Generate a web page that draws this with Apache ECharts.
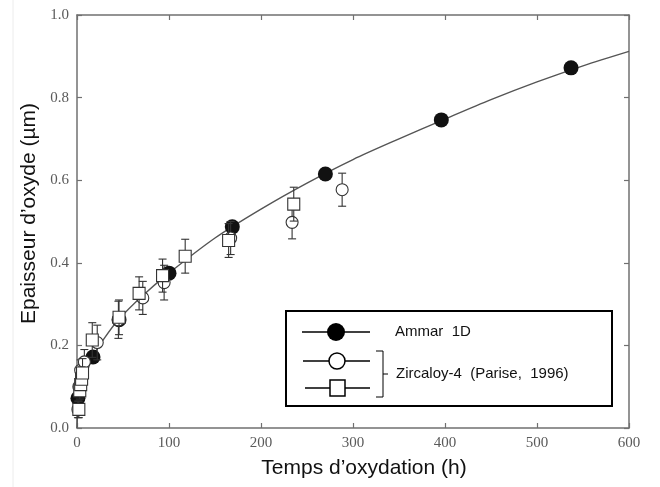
<!DOCTYPE html>
<html>
<head>
<meta charset="utf-8">
<script src="https://cdn.jsdelivr.net/npm/echarts@6/dist/echarts.min.js"></script>
<style>
html,body{margin:0;padding:0;background:#fff;}
#c{width:660px;height:487px;}
</style>
</head>
<body>
<div id="c"></div>
<script>
// Axis ticks
const xTicks = [0, 100, 200, 300, 400, 500, 600];
const yTicks = [0, 0.2, 0.4, 0.6, 0.8, 1.0];

// Model curve (Ammar 1D)
const curveT = [0, 1, 3, 6, 10, 17, 30, 45, 70, 100, 150, 200, 250, 300, 350, 400, 450, 500, 550, 600];
const curveY = [0.0, 0.045, 0.075, 0.105, 0.13, 0.172, 0.218, 0.262, 0.318, 0.375, 0.46, 0.53, 0.593, 0.65, 0.70, 0.748, 0.795, 0.838, 0.877, 0.912];

// Ammar 1D points (filled circles)
const ammarT = [1, 17.4, 45.7, 100, 168.8, 270, 396, 537];
const ammarY = [0.072, 0.172, 0.262, 0.375, 0.487, 0.615, 0.746, 0.872];

// Zircaloy-4 (Parise, 1996) - open circles
const circT = [1, 2, 4, 8, 22, 45, 71.5, 94.7, 167, 233.8, 288.2];
const circY = [0.045, 0.1, 0.14, 0.16, 0.207, 0.262, 0.315, 0.352, 0.46, 0.498, 0.577];
const circErr = [0.02, 0.02, 0.025, 0.03, 0.042, 0.045, 0.04, 0.042, 0.04, 0.04, 0.04];

// Zircaloy-4 (Parise, 1996) - open squares
const sqT = [2, 3, 4, 5, 6, 16.6, 45.7, 67.5, 93, 117.6, 164.8, 235.6];
const sqY = [0.045, 0.09, 0.105, 0.118, 0.133, 0.213, 0.268, 0.326, 0.369, 0.416, 0.454, 0.542];
const sqErr = [0.02, 0.02, 0.025, 0.03, 0.035, 0.042, 0.042, 0.04, 0.04, 0.041, 0.041, 0.041];

const zip = (a, b) => a.map((v, i) => [v, b[i]]);
const zip3 = (a, b, c) => a.map((v, i) => [v, b[i], c[i]]);

const AX = '#707070';
const LBL = '#5a5a5a';
const serif = 'Liberation Serif';

function errRender(params, api) {
  const x = api.value(0), y = api.value(1), e = api.value(2);
  const top = api.coord([x, y + e]);
  const bot = api.coord([x, y - e]);
  const w = 4;
  const st = { stroke: '#333', lineWidth: 1.1 };
  return {
    type: 'group',
    children: [
      { type: 'line', shape: { x1: top[0], y1: top[1], x2: bot[0], y2: bot[1] }, style: st },
      { type: 'line', shape: { x1: top[0] - w, y1: top[1], x2: top[0] + w, y2: top[1] }, style: st },
      { type: 'line', shape: { x1: bot[0] - w, y1: bot[1], x2: bot[0] + w, y2: bot[1] }, style: st }
    ]
  };
}

function axisParts() {
  return {
    axisLine: { show: true, onZero: false, lineStyle: { color: AX, width: 1.5 } },
    axisTick: { show: true, inside: true, length: 5, lineStyle: { color: AX, width: 1.2 } },
    splitLine: { show: false }
  };
}

const chart = echarts.init(document.getElementById('c'), null, { renderer: 'canvas' });
chart.setOption({
  backgroundColor: '#fff',
  animation: false,
  grid: { left: 77, right: 31, top: 15, bottom: 59 },
  xAxis: [
    Object.assign({
      type: 'value', min: xTicks[0], max: xTicks[xTicks.length - 1], interval: 100, position: 'bottom',
      axisLabel: { fontFamily: serif, fontSize: 15, color: LBL, margin: 8 },
      name: 'Temps d\u2019oxydation (h)', nameLocation: 'middle', nameGap: 30,
      nameTextStyle: { fontFamily: 'Liberation Sans', fontSize: 21, color: '#111', padding: [0, 0, 0, 22] }
    }, axisParts()),
    Object.assign({
      type: 'value', min: xTicks[0], max: xTicks[xTicks.length - 1], interval: 100, position: 'top',
      axisLabel: { show: false }
    }, axisParts())
  ],
  yAxis: [
    Object.assign({
      type: 'value', min: yTicks[0], max: yTicks[yTicks.length - 1], interval: 0.2, position: 'left',
      axisLabel: { fontFamily: serif, fontSize: 15, color: LBL, margin: 8, formatter: v => v.toFixed(1) },
      name: 'Epaisseur d\u2019oxyde (\u00b5m)', nameLocation: 'middle', nameGap: 33,
      nameTextStyle: { fontFamily: 'Liberation Sans', fontSize: 21, color: '#111', padding: [0, 0, 0, 16] }
    }, axisParts()),
    Object.assign({
      type: 'value', min: yTicks[0], max: yTicks[yTicks.length - 1], interval: 0.2, position: 'right',
      axisLabel: { show: false }
    }, axisParts())
  ],
  series: [
    {
      type: 'line', data: zip(curveT, curveY), smooth: 0.3, symbol: 'none',
      lineStyle: { color: '#555', width: 1.4 }, z: 1
    },
    {
      type: 'scatter', data: zip(ammarT, ammarY), symbol: 'circle', symbolSize: 15,
      itemStyle: { color: '#111', opacity: 1 }, z: 2
    },
    {
      type: 'custom', data: zip3(circT, circY, circErr), renderItem: errRender, z: 3
    },
    {
      type: 'scatter', data: zip(circT, circY), symbol: 'circle', symbolSize: 12,
      itemStyle: { color: '#fff', borderColor: '#333', borderWidth: 1.1, opacity: 1 }, z: 4
    },
    {
      type: 'custom', data: zip3(sqT, sqY, sqErr), renderItem: errRender, z: 5
    },
    {
      type: 'scatter', data: zip(sqT, sqY), symbol: 'rect', symbolSize: 12,
      itemStyle: { color: '#fff', borderColor: '#333', borderWidth: 1.1, opacity: 1 }, z: 6
    }
  ],
  graphic: [
    { type: 'line', shape: { x1: 13, y1: 0, x2: 13, y2: 487 }, style: { stroke: '#ececec', lineWidth: 1 }, silent: true },
    { type: 'rect', shape: { x: 286, y: 311, width: 326, height: 95 }, style: { fill: '#fff', stroke: '#000', lineWidth: 2 }, z: 100 },
    { type: 'line', shape: { x1: 302, y1: 332, x2: 370, y2: 332 }, style: { stroke: '#000', lineWidth: 1.5 }, z: 101 },
    { type: 'circle', shape: { cx: 336, cy: 332, r: 9 }, style: { fill: '#000' }, z: 102 },
    { type: 'line', shape: { x1: 303, y1: 361, x2: 370, y2: 361 }, style: { stroke: '#000', lineWidth: 1.5 }, z: 101 },
    { type: 'circle', shape: { cx: 337, cy: 361, r: 8 }, style: { fill: '#fff', stroke: '#000', lineWidth: 1.5 }, z: 102 },
    { type: 'line', shape: { x1: 305, y1: 388, x2: 370, y2: 388 }, style: { stroke: '#000', lineWidth: 1.5 }, z: 101 },
    { type: 'rect', shape: { x: 330, y: 380, width: 15, height: 16 }, style: { fill: '#fff', stroke: '#000', lineWidth: 1.5 }, z: 102 },
    { type: 'polyline', shape: { points: [[376, 351], [383, 351], [383, 397], [376, 397]] }, style: { stroke: '#000', lineWidth: 1, fill: null }, z: 101 },
    { type: 'line', shape: { x1: 383, y1: 374, x2: 388, y2: 374 }, style: { stroke: '#000', lineWidth: 1 }, z: 101 },
    { type: 'text', x: 395, y: 332, style: { text: 'Ammar  1D', fontFamily: 'Liberation Sans', fontSize: 15, fill: '#111', verticalAlign: 'middle', textAlign: 'left' }, z: 102 },
    { type: 'text', x: 396, y: 374, style: { text: 'Zircaloy-4  (Parise,  1996)', fontFamily: 'Liberation Sans', fontSize: 15, fill: '#111', verticalAlign: 'middle', textAlign: 'left' }, z: 102 }
  ]
});
</script>
</body>
</html>
